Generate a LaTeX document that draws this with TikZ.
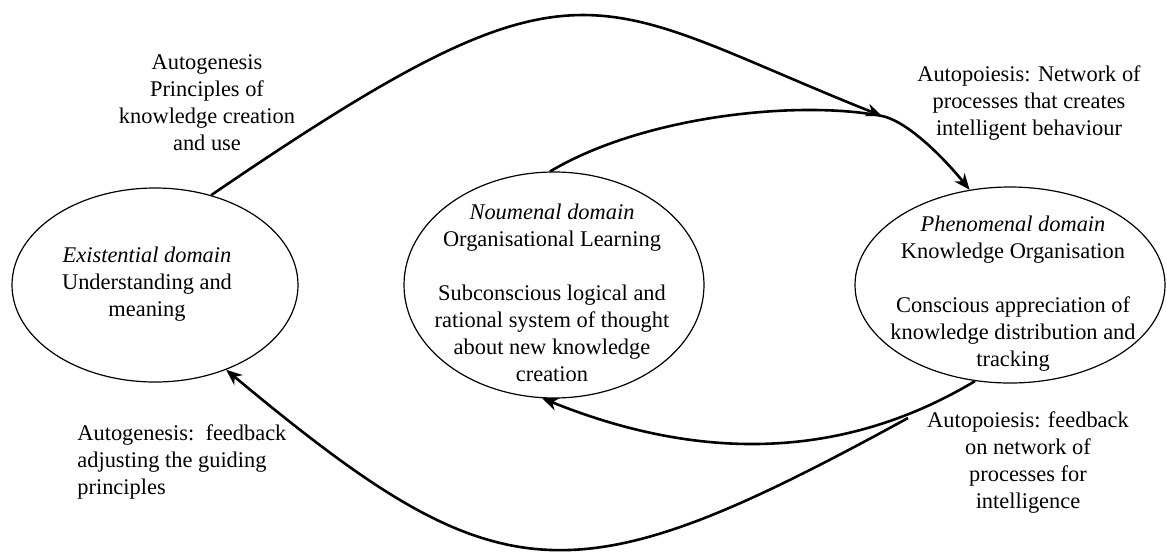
\documentclass[tikz,border=0pt]{standalone}
\usepackage{fontspec}
\setmainfont{Liberation Serif}
\usetikzlibrary{shapes.geometric, arrows.meta}

\begin{document}
\begin{tikzpicture}[
  x=0.5pt, y=-0.5pt,
  every node/.style={font=\fontsize{11.2}{13.5}\selectfont, inner sep=0pt},
  domainell/.style={draw, ellipse, line width=0.6pt},
  domaintxt/.style={align=center},
  flowlbl/.style={align=center},
  flow/.style={line width=1.3pt, -{Stealth[length=8pt, width=6.5pt, inset=2.5pt]}}
]
\useasboundingbox (0,0) rectangle (1167,553);

% the three domains
\node[domainell, minimum width=143pt, minimum height=97pt] (exist) at (155,285) {};
\node[domainell, minimum width=150pt, minimum height=113pt] (noumenal) at (554,285) {};
\node[domainell, minimum width=155pt, minimum height=98pt] (phenom) at (1010,285) {};

\node[domaintxt] (existtxt) at (147,284) {\textit{Existential domain}\\Understanding and\\meaning};
\node[domaintxt] (noumenaltxt) at (552,293) {\textit{Noumenal domain}\\Organisational Learning\\[13.5pt]
  Subconscious logical and\\rational system of thought\\about new knowledge\\creation};
\node[domaintxt] (phenomtxt) at (1013,294) {\textit{Phenomenal domain}\\Knowledge Organisation\\[13.5pt]
  Conscious appreciation of\\knowledge distribution and\\tracking};

% labels of the flows
\node[flowlbl] (genlbl) at (207,103) {Autogenesis\\Principles of\\knowledge creation\\and use};
\node[flowlbl] (poilbl) at (1029,103) {Autopoiesis: Network of\\processes that creates\\intelligent behaviour};
\node[flowlbl] (poifb) at (1028,463) {Autopoiesis: feedback\\on network of\\processes for\\intelligence};
\node[flowlbl, align=left, anchor=west] (genfb) at (77,462) {Autogenesis:\ \ feedback\\adjusting the guiding\\principles};

\coordinate (junc) at (882,116);
\coordinate (fbstart) at (908,418);

% flows
\draw[flow] (exist.58) .. controls (585,-60) and (586,-2) .. (junc);
\draw[flow] (noumenal.92) .. controls (645,115) and (800,100) .. (junc)
  .. controls (910,122) and (948,163) .. (phenom.113);
\draw[flow] (phenom.-110) .. controls (860,450) and (720,470) .. (noumenal.-96);
\draw[flow] (fbstart) .. controls (570,603) and (500,598) .. (exist.-50);
\end{tikzpicture}
\end{document}
